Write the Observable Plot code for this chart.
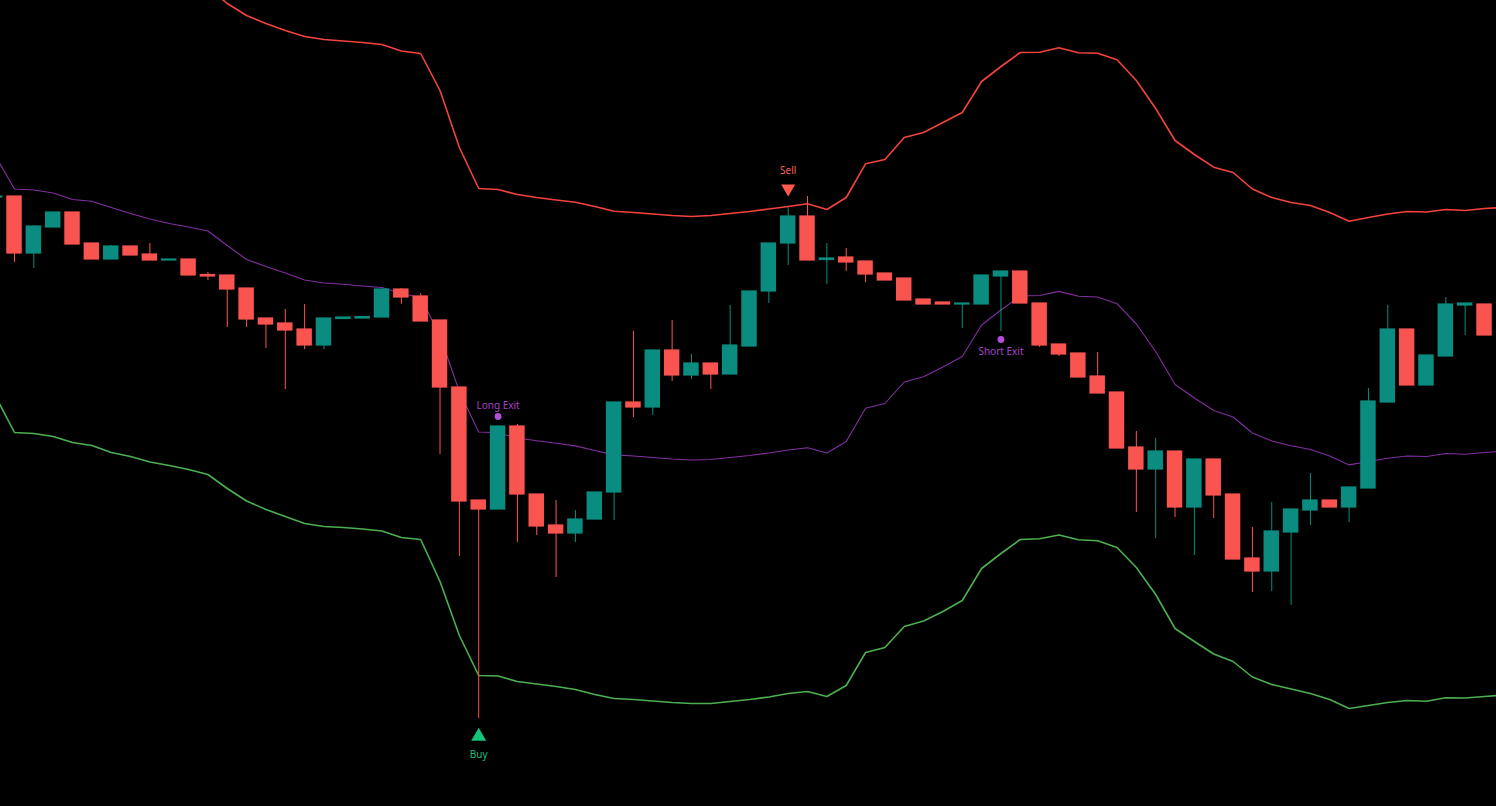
<!DOCTYPE html>
<html><head><meta charset="utf-8">
<script src="https://cdn.jsdelivr.net/npm/d3@7"></script>
<script src="https://cdn.jsdelivr.net/npm/@observablehq/plot@0.6"></script>
<style>html,body{margin:0;padding:0;background:#000;overflow:hidden}#chart svg{display:block}</style>
</head><body><div id="chart"></div>
<script>
// Candles (bar index 0..77), price units
const open  = [609,610,553,579,594,563,547,560,552,546,547,531.5,531,518,488,483,477,461,487.5,488,489,517,510,486,419,306,297,380,312,281,273,287,314,404,399,456,431,443,432,460,515,563,590,546.5,549,545,533,528,507,504,502,502,530,535,503,462,453,430,414,359,337,355,299,347,312,248,235,274,296,306,299,318,404,477,421,450,501,502];
const high  = [610,610,581,594,594,563,561,560,563,547,547,534,531,518,488,497,502,488,489,489.5,517,518,513,486,419,306,380,382,312,306,296,314,404,475,456,486,452,443,501,515,563,599,610,563,558,545,533,528,507,504,503,531,535,535,503,462,453,454,414,375,368,355,347,347,312,279,304,297,333,306,319,418,501,477,451,509,503,502];
const low   = [609,544,538,579,562,547,547,551,546,546,531,526,479,479,458,417,457,457,487.5,488,489,502,485,352,250,88,297,264,271,229,264,287,286,389,391,425,427,417,432,460,503,541,546,522,535,524,526,506,502,502,478,502,475,503,459,450,429,413,358,294,268,289,251,288,247,214,215,201,281,299,284,318,404,421,421,450,471,471];
const close = [610,553,580,594,562,547,560,551,546,547,531,530,517,487,482,476,461,488,489,489.5,517,509,485,419,305,297,380,312,280,273,287,314,404,399,456,431,443,432,461,515,563,590,546,548,544,532,526,506,502,502,503,531,535,503,461,452,429,413,358,337,355,299,347,311,247,235,275,297,306,299,319,405,477,421,451,502,503,471];

// Bollinger bands (index 0..78)
const upper  = [891,861,860,857,850,849.6,844,836,830.5,825,822,819,803,791,783,776,770,767,765.5,764,762,755.5,753,716,659,618,617,612,609,606.5,604.3,600,595.3,594,592.5,591,590,591,593,595,597.5,600,602.7,597,609,642.7,647,669,674,684,694,725,740,754,754.3,758.7,753.7,753.3,746.7,726,698,666,652,639.3,634,617.5,609,604,601,594,585.3,589,592.5,595,594.5,597,596,598,599];
const middle = [651,617.5,616.5,613.5,607,605.3,599,593,587.5,583,579.5,575.5,561,547,540,533.5,526.5,523.5,522.2,520.5,519,513,509,470.5,415,374.5,373.7,368.5,365.7,363.2,360.6,356,351.6,350.5,349,347.5,346.5,347,349,351,353.5,356.5,358.8,353.5,365,398.3,403,424.5,429.7,439.5,450,481.5,496.5,510.5,511,515.1,510.2,509.5,502.8,482.5,455,422,408.5,396,389.5,373.5,365.5,360.7,357,350.5,341.6,345,348.2,350.5,350,353,352.2,354,355.2];
const lower  = [411,374,373,370,364,361,354,350,344.5,341,337,332,318,305.5,297,290,283,280,279,277.5,275.5,269,267,225,171,131,130.5,125,122.5,120,117,112,108,107,105.5,104,103,103,105,107,109.5,113,115,110,121,154,159,180,185.5,195,206,238,253,267,267.7,271.5,266.7,265.7,259,239,212,178,165,152.5,145,129.5,122,117.5,113,107,98,101,104,106,105.3,108.7,108.5,110,111.5];

// Strategy signals
const signalLabels = ["Buy", "Sell", "Long Exit", "Short Exit"];
const signalBars   = [25, 41, 26, 52];

const UP = "#0a8d80", DOWN = "#fa5450";
const candles = open.map((o, i) => ({i, open: o, high: high[i], low: low[i], close: close[i], up: close[i] >= o}));
const bands = upper.map((u, i) => ({i, upper: u, middle: middle[i], lower: lower[i]}));
const sig = signalLabels.map((s, k) => ({label: s, i: signalBars[k], high: high[signalBars[k]], low: low[signalBars[k]]}));
const buy = sig.filter(d => d.label === "Buy");
const sell = sig.filter(d => d.label === "Sell");
const lx = sig.filter(d => d.label === "Long Exit");
const sx = sig.filter(d => d.label === "Short Exit");
const upC = candles.filter(d => d.up), dnC = candles.filter(d => !d.up);
const font = "Noto Sans, sans-serif";

const chart = Plot.plot({
  width: 1496, height: 806,
  marginTop: 0, marginRight: 0, marginBottom: 0, marginLeft: 0,
  style: {background: "#000", overflow: "hidden"},
  x: {type: "linear", domain: [0.2762, 77.62], range: [0, 1496], axis: null},
  y: {domain: [0, 806], range: [806, 0], axis: null},
  marks: [
    Plot.line(bands, {x: "i", y: "upper", stroke: "#f4433c", strokeWidth: 1.6, clip: true}),
    Plot.line(bands, {x: "i", y: "middle", stroke: "#82309e", strokeWidth: 1.1, clip: true}),
    Plot.line(bands, {x: "i", y: "lower", stroke: "#4caf50", strokeWidth: 1.6, clip: true}),
    Plot.ruleX(upC, {x: "i", y1: "low", y2: "high", stroke: UP, strokeWidth: 1}),
    Plot.ruleX(dnC, {x: "i", y1: "low", y2: "high", stroke: DOWN, strokeWidth: 1}),
    Plot.rect(upC, {x1: d => d.i - 0.4, x2: d => d.i + 0.4, y1: "open", y2: "close", fill: UP, insetTop: -0.6, insetBottom: -0.6}),
    Plot.rect(dnC, {x1: d => d.i - 0.4, x2: d => d.i + 0.4, y1: "open", y2: "close", fill: DOWN, insetTop: -0.6, insetBottom: -0.6}),
    // Buy
    Plot.dot(buy, {x: "i", y: "low", dy: 18, symbol: "triangle", r: 5.6, fill: "#17c37b", stroke: "none"}),
    Plot.text(buy, {x: "i", y: "low", dy: 36, text: "label", fill: "#1fbf7a", fontSize: 10, fontFamily: font}),
    // Sell
    Plot.dot(sell, {x: "i", y: "high", dy: -19, symbol: "triangle", rotate: 180, r: 5.2, fill: "#ff5a4a", stroke: "none"}),
    Plot.text(sell, {x: "i", y: "high", dy: -37, text: "label", fill: "#f0655c", fontSize: 10, fontFamily: font}),
    // Long Exit
    Plot.dot(lx, {x: "i", y: "high", dy: -10, r: 3.4, fill: "#b44ed8", stroke: "none"}),
    Plot.text(lx, {x: "i", y: "high", dy: -21, text: "label", fill: "#a444c4", fontSize: 10, fontFamily: font}),
    // Short Exit
    Plot.dot(sx, {x: "i", y: "low", dy: 8, r: 3.4, fill: "#b44ed8", stroke: "none"}),
    Plot.text(sx, {x: "i", y: "low", dy: 20, text: "label", fill: "#a444c4", fontSize: 10, fontFamily: font})
  ]
});
document.getElementById("chart").appendChild(chart);
</script>
</body></html>
